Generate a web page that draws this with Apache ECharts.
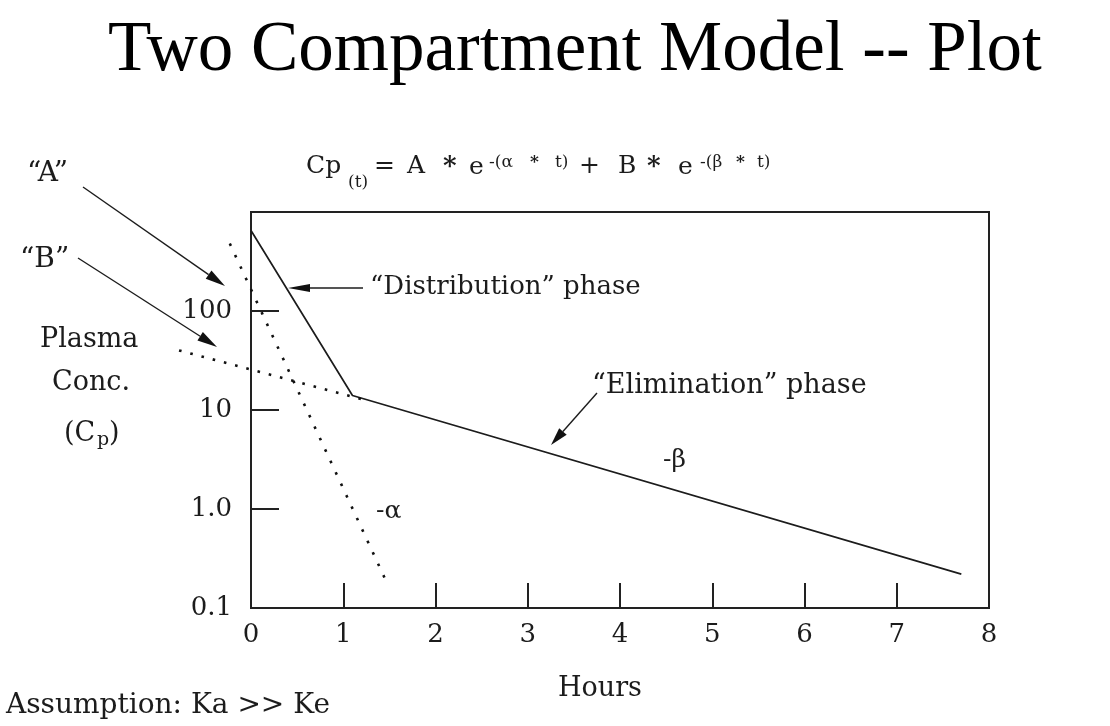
<!DOCTYPE html>
<html><head><meta charset="utf-8">
<script src="https://cdn.jsdelivr.net/npm/echarts@6/dist/echarts.min.js"></script>
<style>html,body{margin:0;padding:0;background:#fff}#c{width:1110px;height:726px}</style>
</head><body><div id="c"></div>
<script>
// ---- data ----
const xTickLabels = ['0','1','2','3','4','5','6','7','8'];
const yTickLabels = ['0.1','1.0','10','100'];
// observed plasma concentration curve (distribution phase, then elimination phase)
const observedHours = [0, 1.1, 7.7];
const observedConc  = [650, 14, 0.22];
// dotted residual line of the distribution phase (slope -alpha, intercept "A")
const alphaHours = [-0.23, 1.45];
const alphaConc  = [480, 0.2];
// dotted back-extrapolation of the elimination phase (slope -beta, intercept "B")
const betaHours = [-0.78, 1.25];
const betaConc  = [40, 12.5];

const zip = (xs, ys) => xs.map((x, i) => [x, ys[i]]);
const SERIF = 'DejaVu Serif';
const INK = '#1c1c1c';

// plot box layout
const BOX = {left: 251, top: 212, right: 989, bottom: 608};
const X_MIN = 0, X_MAX = 8, X_EXT_MIN = -1;
const pxPerHour = (BOX.right - BOX.left) / (X_MAX - X_MIN);

function arrow(x1, y1, x2, y2, headLen, headW) {
  const dx = x2 - x1, dy = y2 - y1, L = Math.hypot(dx, dy), ux = dx / L, uy = dy / L;
  const bx = x2 - ux * headLen, by = y2 - uy * headLen;
  return [
    {type: 'line', silent: true, shape: {x1: x1, y1: y1, x2: bx, y2: by}, style: {stroke: INK, lineWidth: 1.4}},
    {type: 'polygon', silent: true, shape: {points: [[x2, y2], [bx - uy * headW, by + ux * headW], [bx + uy * headW, by - ux * headW]]}, style: {fill: '#111'}}
  ];
}
function txt(text, x, y, size, bold) {
  return {type: 'text', silent: true, x: x, y: y,
    style: {text: text, fontFamily: SERIF, fontSize: size, fontWeight: bold ? 'bold' : 'normal', fill: INK, align: 'left', verticalAlign: 'middle'}};
}
// equation pieces: [text, x, yCenter, fontSize, bold]
const eqPieces = [
  ['Cp', 306, 166, 25], ['(t)', 348, 183, 17], ['=', 374, 166, 25], ['A', 407, 166, 25],
  ['*', 443, 167, 26, true], ['e', 469, 167, 25], ['-(\u03B1', 489, 163, 17], ['*', 530, 163, 17, true], ['t)', 555, 163, 17],
  ['+', 579, 166, 25], ['B', 618, 166, 25], ['*', 647, 167, 26, true], ['e', 678, 167, 25],
  ['-(\u03B2', 700, 163, 17], ['*', 736, 163, 17, true], ['t)', 757, 163, 17]
];

const graphics = [].concat(
  [
    txt('\u201CA\u201D', 27, 174, 28),
    txt('\u201CB\u201D', 20, 260, 28),
    txt('Plasma', 40, 340, 27),
    txt('Conc.', 52, 383, 27),
    txt('(C', 64, 434, 27), txt('p', 97, 440, 19), txt(')', 109, 434, 27),
    txt('\u201CDistribution\u201D phase', 370, 287, 26),
    txt('\u201CElimination\u201D phase', 592, 386, 27),
    txt('-\u03B2', 663, 460, 25),
    txt('-\u03B1', 376, 511, 25),
    txt('Assumption: Ka >> Ke', 6, 706, 28)
  ],
  eqPieces.map(p => txt(p[0], p[1], p[2], p[3], p[4])),
  arrow(83, 187, 225, 286, 20, 5),
  arrow(78, 258, 217, 347, 20, 5),
  arrow(363, 288, 288, 288, 22, 4),
  arrow(597, 393, 551, 445, 18, 5)
);

const chart = echarts.init(document.getElementById('c'), null, {renderer: 'canvas'});
chart.setOption({
  animation: false,
  backgroundColor: '#fff',
  title: {text: 'Two Compartment Model -- Plot', left: 103, top: 11,
    textStyle: {fontFamily: 'Liberation Serif', fontSize: 71, fontWeight: 'normal', color: '#000'}},
  grid: [
    {left: BOX.left, top: BOX.top, right: 1110 - BOX.right, bottom: 726 - BOX.bottom,
      show: true, borderColor: '#222', borderWidth: 2, backgroundColor: 'transparent'},
    // same scale, extended to negative hours so the extrapolated lines can run past the y axis
    {left: BOX.left + (X_EXT_MIN - X_MIN) * pxPerHour, top: BOX.top, right: 1110 - BOX.right, bottom: 726 - BOX.bottom, show: false}
  ],
  xAxis: [
    {type: 'value', gridIndex: 0, min: X_MIN, max: X_MAX, interval: 1,
      name: 'Hours', nameLocation: 'middle', nameGap: 67,
      nameTextStyle: {fontFamily: SERIF, fontSize: 27, color: INK, padding: [0, 40, 0, 0]},
      axisLine: {show: true, lineStyle: {color: '#222', width: 2}},
      axisTick: {show: true, inside: true, length: 25, lineStyle: {color: '#222', width: 2}},
      axisLabel: {formatter: v => xTickLabels[Math.round(v)] || '', fontFamily: SERIF, fontSize: 26, color: INK, margin: 14},
      splitLine: {show: false}},
    {type: 'value', gridIndex: 1, min: X_EXT_MIN, max: X_MAX, show: false, splitLine: {show: false}}
  ],
  yAxis: [
    {type: 'log', gridIndex: 0, logBase: 10, min: 0.1, max: 1000,
      axisLine: {show: true, lineStyle: {color: '#222', width: 2}},
      axisTick: {show: true, inside: true, length: 28, lineStyle: {color: '#222', width: 2}},
      axisLabel: {formatter: v => yTickLabels[Math.round(Math.log10(v)) + 1] || '', fontFamily: SERIF, fontSize: 26, color: INK, margin: 19},
      splitLine: {show: false}, minorTick: {show: false}},
    {type: 'log', gridIndex: 1, logBase: 10, min: 0.1, max: 1000, show: false, splitLine: {show: false}}
  ],
  series: [
    {type: 'line', name: 'Observed', xAxisIndex: 0, yAxisIndex: 0, data: zip(observedHours, observedConc), symbol: 'none', silent: true,
      lineStyle: {color: INK, width: 1.7}},
    {type: 'line', name: 'Alpha residual', xAxisIndex: 1, yAxisIndex: 1, data: zip(alphaHours, alphaConc), symbol: 'none', silent: true,
      lineStyle: {color: '#111', width: 2.6, type: [2.6, 10], cap: 'butt'}},
    {type: 'line', name: 'Beta extrapolation', xAxisIndex: 1, yAxisIndex: 1, data: zip(betaHours, betaConc), symbol: 'none', silent: true,
      lineStyle: {color: '#111', width: 2.6, type: [2.6, 9], cap: 'butt'}}
  ],
  graphic: graphics
});
</script></body></html>
